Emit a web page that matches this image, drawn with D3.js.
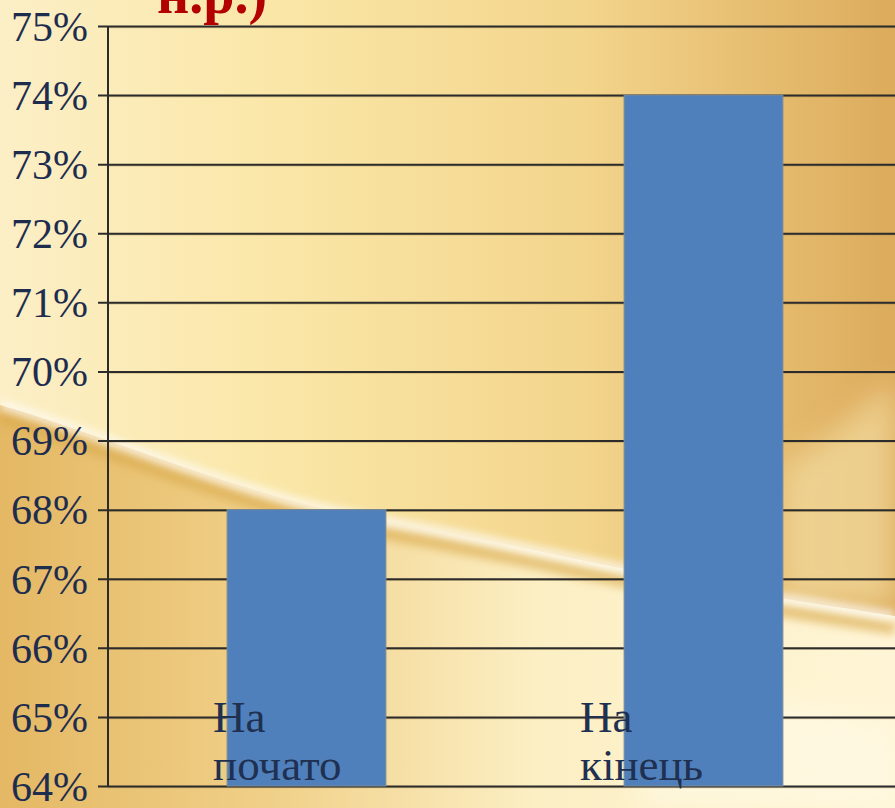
<!DOCTYPE html>
<html>
<head>
<meta charset="utf-8">
<script src="https://cdn.jsdelivr.net/npm/d3@7"></script>
<style>
  html, body { margin: 0; padding: 0; overflow: hidden; }
  svg { display: block; }
</style>
</head>
<body>
<svg width="895" height="808"></svg>
<script>
var categories = ['На початок', 'На кінець'];
var labelLines = [['На', 'почато'], ['На', 'кінець']];
var values = [68, 74];
var yTicks = [64, 65, 66, 67, 68, 69, 70, 71, 72, 73, 74, 75];
var titleTail = 'н.р.)';

var width = 895, height = 808;
var margin = { top: 26, left: 108, bottom: 22 };
var svg = d3.select('svg');
var defs = svg.append('defs');

/* ----------- BACKGROUND ----------- */

function linear(id, stops, x2, y2) {
    var g = defs.append('linearGradient').attr('id', id)
        .attr('x1', 0).attr('y1', 0).attr('x2', x2).attr('y2', y2);
    stops.forEach(function (s) {
        g.append('stop').attr('offset', s[0]).attr('stop-color', s[1]).attr('stop-opacity', s[2] == null ? 1 : s[2]);
    });
}
linear('bgTop', [[0, '#fcefc6'], [0.3, '#fae7a8'], [0.65, '#f3d58c'], [1, '#dcab5c']], 1, 0);
linear('bgLow', [[0, '#e4b864'], [0.3, '#f0d088'], [0.6, '#fcefc4'], [1, '#fff5d6']], 1, 0);
var blur = defs.append('filter').attr('id', 'soft').attr('x', '-20%').attr('y', '-50%').attr('width', '140%').attr('height', '200%');
blur.append('feGaussianBlur').attr('stdDeviation', 4);
var blur2 = defs.append('filter').attr('id', 'soft2').attr('x', '-20%').attr('y', '-50%').attr('width', '140%').attr('height', '200%');
blur2.append('feGaussianBlur').attr('stdDeviation', 14);

svg.append('rect').attr('width', width).attr('height', height).attr('fill', 'url(#bgTop)');

var swoosh = 'M0,405 C120,440 250,500 390,522 C520,545 640,575 780,598 C830,606 870,612 895,616';
svg.append('path')
    .attr('d', swoosh + ' L895,808 L0,808 Z')
    .attr('fill', 'url(#bgLow)');
svg.append('path')
    .attr('d', 'M895,380 C850,420 810,450 782,470 L782,600 L895,606 Z')
    .attr('fill', '#f3dca0').attr('opacity', 0.7).attr('filter', 'url(#soft2)');
svg.append('path')
    .attr('d', swoosh)
    .attr('fill', 'none').attr('stroke', '#d9a94c').attr('stroke-width', 14)
    .attr('opacity', 0.6).attr('transform', 'translate(0,12)').attr('filter', 'url(#soft)');
svg.append('path')
    .attr('d', swoosh)
    .attr('fill', 'none').attr('stroke', '#ffffff').attr('stroke-width', 8)
    .attr('opacity', 0.85).attr('filter', 'url(#soft)');
svg.append('path')
    .attr('d', 'M640,700 C720,690 820,700 895,730 L895,808 L640,808 Z')
    .attr('fill', '#fffbe8').attr('opacity', 0.6).attr('filter', 'url(#soft2)');

/* ----------- SCALES ----------- */

var x = d3.scaleBand()
    .domain(categories)
    .range([margin.left, margin.left + 794])
    .paddingInner(0.6)
    .paddingOuter(0.3);

var y = d3.scaleLinear()
    .domain([64, 75])
    .range([height - margin.bottom, margin.top]);

/* ----------- GRID + AXIS ----------- */

var grid = svg.append('g');
grid.selectAll('line.shadow')
    .data(yTicks)
    .enter().append('line')
    .attr('x1', margin.left).attr('x2', width + 10)
    .attr('y1', function (d) { return y(d) + 1.5; }).attr('y2', function (d) { return y(d) + 1.5; })
    .attr('stroke', '#8a7440').attr('stroke-opacity', 0.35).attr('stroke-width', 1.5);

var yAxis = svg.append('g')
    .attr('transform', 'translate(' + margin.left + ',0)')
    .call(d3.axisLeft(y).tickValues(yTicks).tickSize(10).tickPadding(10).tickFormat(function (d) { return d + '%'; }));
yAxis.select('.domain').remove();
yAxis.selectAll('.tick line').attr('stroke', '#2b2b2b').attr('stroke-width', 2)
    .attr('x2', width).attr('x1', -10);
yAxis.selectAll('.tick text')
    .attr('x', -20)
    .attr('dy', '0.34em')
    .attr('fill', '#1e2d4e')
    .style('font-family', '"Liberation Serif", "DejaVu Serif", serif')
    .style('font-size', '42px');

svg.append('line')
    .attr('x1', margin.left).attr('x2', margin.left)
    .attr('y1', y(75)).attr('y2', y(64))
    .attr('stroke', '#2b2b2b').attr('stroke-width', 2);

/* ----------- BARS ----------- */

svg.selectAll('rect.bar')
    .data(values)
    .enter().append('rect')
    .attr('class', 'bar')
    .attr('x', function (d, i) { return x(categories[i]); })
    .attr('width', x.bandwidth())
    .attr('y', function (d) { return y(d); })
    .attr('height', function (d) { return y(64) - y(d); })
    .attr('fill', '#4f80bc')
    .attr('stroke', '#7d8a96')
    .attr('stroke-width', 1);

/* ----------- CATEGORY LABELS ----------- */

var labelShift = [-14, -44];
var labels = svg.selectAll('text.cat')
    .data(labelLines)
    .enter().append('text')
    .attr('class', 'cat')
    .attr('fill', '#1f3050')
    .style('font-family', '"Liberation Serif", "DejaVu Serif", serif')
    .style('font-size', '45px');
labels.selectAll('tspan')
    .data(function (d, i) { return d.map(function (t) { return { t: t, i: i }; }); })
    .enter().append('tspan')
    .attr('x', function (d) { return x(categories[d.i]) + labelShift[d.i]; })
    .attr('y', function (d, k) { return y(64) - 54 + k * 48; })
    .text(function (d) { return d.t; });

/* ----------- TITLE FRAGMENT ----------- */

svg.append('text')
    .attr('x', 157).attr('y', 13)
    .attr('fill', '#b30000')
    .style('font-family', '"Liberation Serif", "DejaVu Serif", serif')
    .style('font-weight', 'bold')
    .style('font-size', '56px')
    .text(titleTail);
</script>
</body>
</html>
